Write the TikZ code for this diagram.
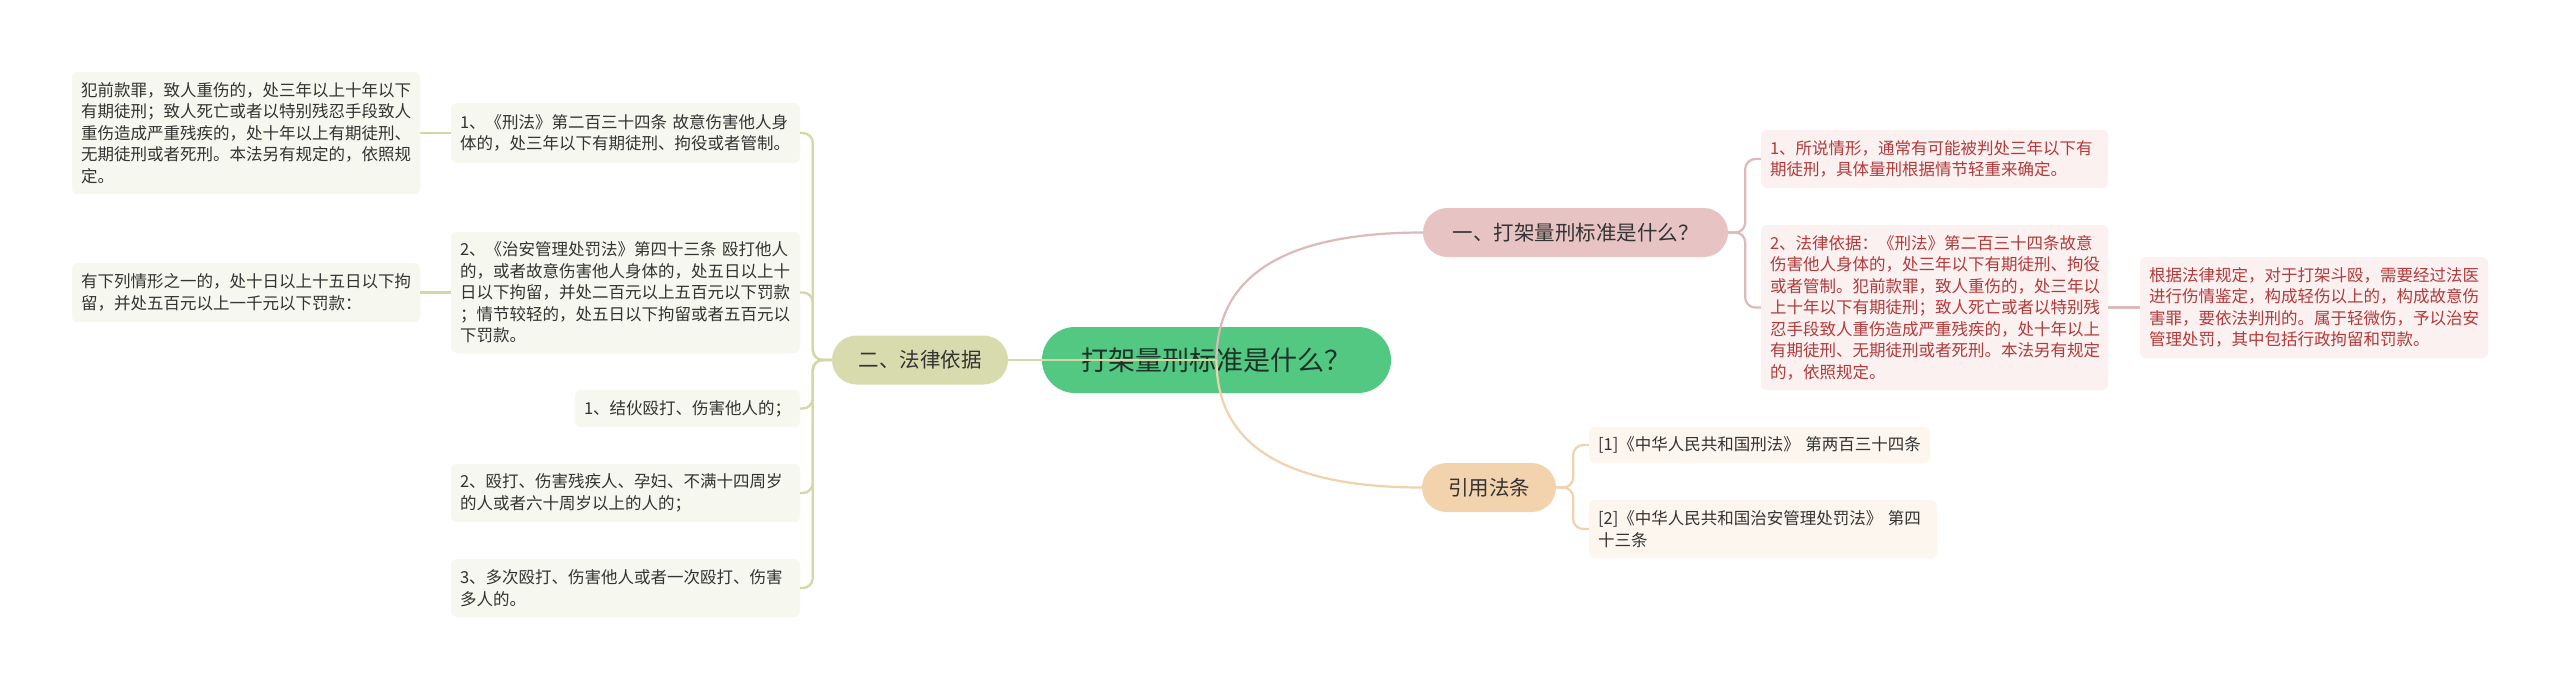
\documentclass[tikz,border=0pt]{standalone}
\usepackage{fontspec}
\setmainfont{Noto Sans CJK SC}
\usetikzlibrary{calc}
\definecolor{rootfill}{HTML}{52C882}
\definecolor{roottext}{HTML}{1D3326}
\definecolor{olivefill}{HTML}{D8DBAE}
\definecolor{pinkfill}{HTML}{E8C3C3}
\definecolor{tanfill}{HTML}{F2D3AE}
\definecolor{oliveline}{HTML}{D4D8A6}
\definecolor{pinkline}{HTML}{DDB9B9}
\definecolor{tanline}{HTML}{F0D2AE}
\definecolor{oliveleaf}{HTML}{F6F7EE}
\definecolor{pinkleaf}{HTML}{FBF1F1}
\definecolor{tanleaf}{HTML}{FDF6EE}
\definecolor{redtext}{HTML}{B23A3A}
\definecolor{graytext}{HTML}{333333}
\newcommand{\leaffont}{\fontsize{16.5}{21.5}\selectfont}
\newcommand{\branchfont}{\fontsize{20.5}{24}\selectfont}
\newcommand{\rootfont}{\fontsize{27}{32}\selectfont}
\begin{document}
\begin{tikzpicture}[x=1pt,y=-1pt,
  rootbox/.style={fill=rootfill, text=roottext, font=\rootfont, rounded corners=33pt,
    minimum width=349pt, minimum height=66pt, inner sep=0pt},
  branchbox/.style={rounded corners=24.5pt, font=\branchfont, minimum height=49pt, inner sep=0pt},
  leafbox/.style={rounded corners=6pt, inner xsep=9pt, inner ysep=3pt, align=left, font=\leaffont},
  leafO/.style={leafbox, fill=oliveleaf, text=graytext},
  leafP/.style={leafbox, fill=pinkleaf, text=redtext},
  leafT/.style={leafbox, fill=tanleaf, text=graytext},
  lineO/.style={draw=oliveline, line width=2.3pt},
  lineP/.style={draw=pinkline, line width=2.2pt},
  lineT/.style={draw=tanline, line width=2.2pt},
]
\useasboundingbox[fill=white] (0,0) rectangle (2560,689);

% root and branches
\node[rootbox] (root) at (1216.5,360) {打架量刑标准是什么？};
\node[branchbox, fill=olivefill, text=graytext, minimum width=176pt] (law) at (920,360) {二、法律依据};
\node[branchbox, fill=pinkfill, text=graytext, minimum width=305pt] (q) at (1575.5,232.5) {一、打架量刑标准是什么？};
\node[branchbox, fill=tanfill, text=graytext, minimum width=134pt] (cite) at (1489,487.5) {引用法条};

% left leaves
\node[leafO, text width=331pt, minimum height=60pt] (a1) at (625.5,133) {1、《刑法》第二百三十四条~故意伤害他人身\\体的，处三年以下有期徒刑、拘役或者管制。};
\node[leafO, text width=330pt, minimum height=122pt] (a1c) at (246,133) {犯前款罪，致人重伤的，处三年以上十年以下\\有期徒刑；致人死亡或者以特别残忍手段致人\\重伤造成严重残疾的，处十年以上有期徒刑、\\无期徒刑或者死刑。本法另有规定的，依照规\\定。};
\node[leafO, text width=331pt, minimum height=121pt] (a2) at (625.5,292.5) {2、《治安管理处罚法》第四十三条~殴打他人\\的，或者故意伤害他人身体的，处五日以上十\\日以下拘留，并处二百元以上五百元以下罚款\\；情节较轻的，处五日以下拘留或者五百元以\\下罚款。};
\node[leafO, text width=330pt, minimum height=59pt] (a2c) at (246,292.5) {有下列情形之一的，处十日以上十五日以下拘\\留，并处五百元以上一千元以下罚款：};
\node[leafO, text width=207pt, minimum height=37pt] (a3) at (687.5,408.5) {1、结伙殴打、伤害他人的；};
\node[leafO, text width=331pt, minimum height=58pt] (a4) at (625.5,493) {2、殴打、伤害残疾人、孕妇、不满十四周岁\\的人或者六十周岁以上的人的；};
\node[leafO, text width=331pt, minimum height=58pt] (a5) at (625.5,588) {3、多次殴打、伤害他人或者一次殴打、伤害\\多人的。};

% right pink leaves
\node[leafP, text width=329pt, minimum height=58pt] (b1) at (1934.5,159) {1、所说情形，通常有可能被判处三年以下有\\期徒刑，具体量刑根据情节轻重来确定。};
\node[leafP, text width=329pt, minimum height=165pt] (b2) at (1934.5,307.5) {2、法律依据：《刑法》第二百三十四条故意\\伤害他人身体的，处三年以下有期徒刑、拘役\\或者管制。犯前款罪，致人重伤的，处三年以\\上十年以下有期徒刑；致人死亡或者以特别残\\忍手段致人重伤造成严重残疾的，处十年以上\\有期徒刑、无期徒刑或者死刑。本法另有规定\\的，依照规定。};
\node[leafP, text width=330pt, minimum height=101pt] (b2c) at (2314,307.5) {根据法律规定，对于打架斗殴，需要经过法医\\进行伤情鉴定，构成轻伤以上的，构成故意伤\\害罪，要依法判刑的。属于轻微伤，予以治安\\管理处罚，其中包括行政拘留和罚款。};

% citation leaves
\node[leafT, text width=323pt, minimum height=36pt] (c1) at (1759.5,445) {[1]《中华人民共和国刑法》~第两百三十四条};
\node[leafT, text width=330pt, minimum height=58pt] (c2) at (1763,529) {[2]《中华人民共和国治安管理处罚法》~第四\\十三条};

% root connectors
\draw[lineO] (law.east) -- (root.center);
\draw[lineP] (root.center) .. controls ($(root.center)!2/3!(root.center |- q.west)$) and ($(q.west)!2/3!(root.center |- q.west)$) .. (q.west);
\draw[lineT] (root.center) .. controls ($(root.center)!2/3!(root.center |- cite.west)$) and ($(cite.west)!2/3!(root.center |- cite.west)$) .. (cite.west);

% left bracket
\foreach \n in {a1,a2,a3,a4,a5}{
  \draw[lineO, rounded corners=10pt] (law.west) -- ++(-19,0) |- (\n.east);
}
\draw[lineO] (a1c.east) -- (a1.west);
\draw[lineO] (a2c.east) -- (a2.west);

% pink bracket
\foreach \n in {b1,b2}{
  \draw[lineP, rounded corners=10pt] (q.east) -- ++(17,0) |- (\n.west);
}
\draw[lineP] (b2.east) -- (b2c.west);

% citation bracket
\foreach \n in {c1,c2}{
  \draw[lineT, rounded corners=10pt] (cite.east) -- ++(17,0) |- (\n.west);
}
\end{tikzpicture}
\end{document}
